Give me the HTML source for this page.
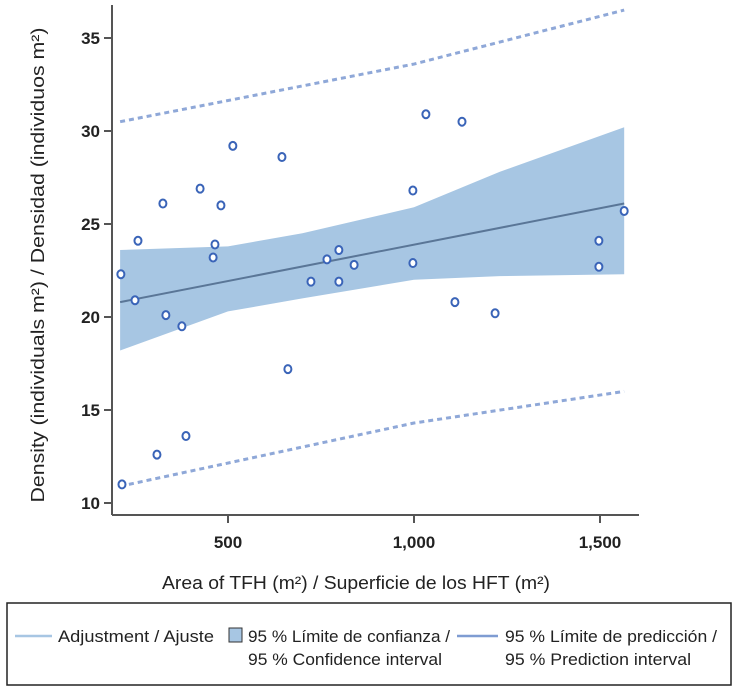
<!DOCTYPE html>
<html><head><meta charset="utf-8"><style>
body{margin:0;background:#fff;width:735px;height:691px;overflow:hidden;font-family:"Liberation Sans",sans-serif}
svg{display:block}
</style></head><body>
<svg id="chart" width="735" height="691">
<g id="band"></g>
<g id="pred"></g>
<g id="fit"></g>
<g id="pts"></g>
<g id="axes"></g>
<text transform="translate(44,265) rotate(-90)" text-anchor="middle" font-size="18" fill="#222" textLength="475" lengthAdjust="spacingAndGlyphs">Density (individuals m²) / Densidad (individuos m²)</text>
<text x="356" y="589" text-anchor="middle" font-size="18" fill="#222" textLength="388" lengthAdjust="spacingAndGlyphs">Area of TFH (m²) / Superficie de los HFT (m²)</text>
<g>
<rect x="7" y="603" width="724" height="82" fill="none" stroke="#222" stroke-width="1.5"/>
<line x1="15" y1="636" x2="52" y2="636" stroke="#a7c6e3" stroke-width="2.5"/>
<text x="58" y="642" font-size="17" fill="#222" textLength="156" lengthAdjust="spacingAndGlyphs">Adjustment / Ajuste</text>
<rect x="229" y="628" width="13" height="14" fill="#a7c6e3" stroke="#333" stroke-width="1"/>
<text x="248" y="642" font-size="17" fill="#222" textLength="202" lengthAdjust="spacingAndGlyphs">95 % Límite de confianza /</text>
<text x="248" y="665" font-size="17" fill="#222" textLength="194" lengthAdjust="spacingAndGlyphs">95 % Confidence interval</text>
<line x1="457" y1="636" x2="498" y2="636" stroke="#7f9cd2" stroke-width="2.5"/>
<text x="505" y="642" font-size="17" fill="#222" textLength="212" lengthAdjust="spacingAndGlyphs">95 % Límite de predicción /</text>
<text x="505" y="665" font-size="17" fill="#222" textLength="186" lengthAdjust="spacingAndGlyphs">95 % Prediction interval</text>
</g>
</svg>
<script>
const xs=[215,309,387,212,258,250,333,325,376,425,460,465,481,513,645,661,723,766,798,798,839,997,997,1032,1129,1110,1218,1497,1497,1565];
const ys=[11,12.6,13.6,22.3,24.1,20.9,20.1,26.1,19.5,26.9,23.2,23.9,26.0,29.2,28.6,17.2,21.9,23.1,23.6,21.9,22.8,22.9,26.8,30.9,30.5,20.8,20.2,24.1,22.7,25.7];
const bandX=[210,500,700,1000,1230,1565];
const bandUpper=[23.6,23.8,24.5,25.9,27.8,30.2];
const bandLower=[18.2,20.3,21.0,22.0,22.2,22.3];
const fitX=[210,1565];
const fitY=[20.8,26.1];
const predX=[210,1000,1565];
const predUpper=[30.5,33.6,36.5];
const predLower=[10.9,14.3,16.0];
const xTicks=[500,1000,1500];
const xTickLabels=["500","1,000","1,500"];
const yTicks=[10,15,20,25,30,35];
const yTickLabels=["10","15","20","25","30","35"];
const X=v=>42+v*0.372;
const Y=v=>503-(v-10)*18.6;
const NS="http://www.w3.org/2000/svg";
function mk(tag,parent,attrs){const e=document.createElementNS(NS,tag);for(const k in attrs)e.setAttribute(k,attrs[k]);parent.appendChild(e);return e;}
const band=document.getElementById('band');
let d="M"+bandX.map((x,i)=>X(x)+","+Y(bandUpper[i])).join("L");
for(let i=bandX.length-1;i>=0;i--)d+="L"+X(bandX[i])+","+Y(bandLower[i]);
const bp=mk('path',band,{d:d+"Z",fill:"#a7c6e3"});


const pred=document.getElementById('pred');
[predUpper,predLower].forEach((arr,j)=>{
const p=mk('polyline',pred,{points:predX.map((x,i)=>X(x)+","+Y(arr[i])).join(" "),fill:"none",stroke:"#8fa8d8","stroke-width":3,"stroke-dasharray":"5,4"});


});
const fit=document.getElementById('fit');
const fl=mk('line',fit,{x1:X(fitX[0]),y1:Y(fitY[0]),x2:X(fitX[1]),y2:Y(fitY[1]),stroke:"#5a7697","stroke-width":2});


const pts=document.getElementById('pts');
xs.forEach((x,i)=>{
const c=mk('ellipse',pts,{cx:X(x),cy:Y(ys[i]),rx:3.5,ry:4,fill:"#fff",stroke:"#3a64b8","stroke-width":2});


});
const ax=document.getElementById('axes');
mk('line',ax,{x1:112,y1:5,x2:112,y2:515,stroke:"#555","stroke-width":2});
mk('line',ax,{x1:112,y1:515,x2:639,y2:515,stroke:"#555","stroke-width":2});
yTicks.forEach((v,i)=>{
mk('line',ax,{x1:104,y1:Y(v),x2:112,y2:Y(v),stroke:"#555","stroke-width":2});
const t=mk('text',ax,{x:100,y:Y(v)+6,"text-anchor":"end","font-size":17,"font-weight":"bold",fill:"#222"});
t.textContent=yTickLabels[i];


});
xTicks.forEach((v,i)=>{
mk('line',ax,{x1:X(v),y1:515,x2:X(v),y2:523,stroke:"#555","stroke-width":2});
const t=mk('text',ax,{x:X(v),y:548,"text-anchor":"middle","font-size":17,"font-weight":"bold",fill:"#222"});
t.textContent=xTickLabels[i];


});
</script>
</body></html>
